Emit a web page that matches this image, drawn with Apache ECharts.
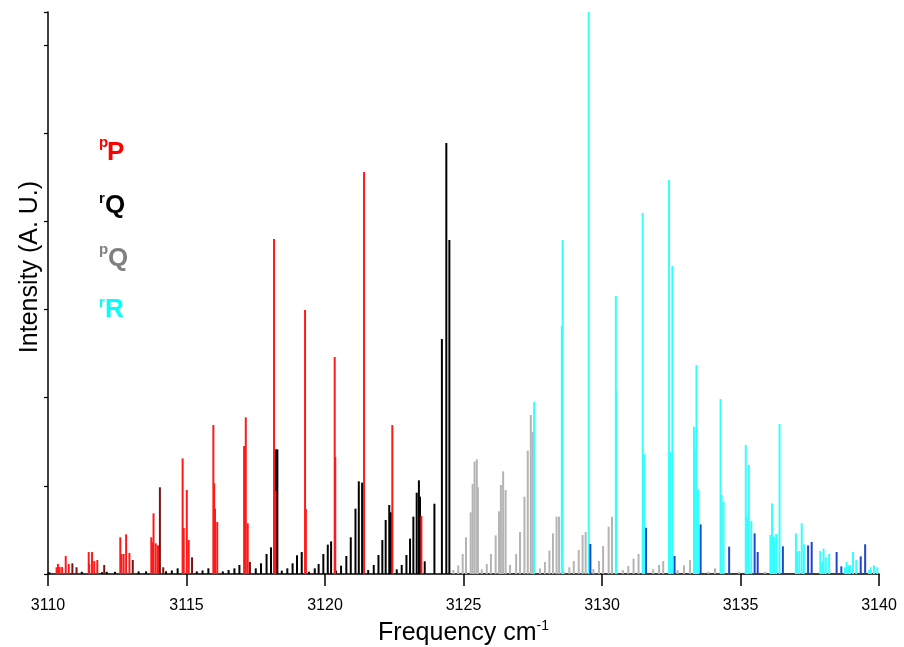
<!DOCTYPE html>
<html>
<head>
<meta charset="utf-8">
<script src="https://cdn.jsdelivr.net/npm/echarts@6/dist/echarts.min.js"></script>
<style>html,body{margin:0;padding:0;background:#fff}#c{width:904px;height:647px}</style>
</head>
<body>
<div id="c"></div>
<script>
// x ticks
const xTicks = [3110, 3115, 3120, 3125, 3130, 3135, 3140];

// pP branch (red)
const pP = [
[3110.31,0.76],[3110.36,1.13],[3110.42,0.79],[3110.51,0.79],[3110.64,2.04],[3110.75,1.13],
[3111.47,2.49],[3111.49,1.13],[3111.59,2.49],[3111.67,1.47],[3111.78,1.59],
[3112.61,4.16],[3112.65,2.27],[3112.73,2.27],[3112.82,4.50],[3112.94,2.38],
[3113.73,4.16],[3113.77,3.59],[3113.81,6.88],[3113.89,3.48],[3113.97,3.25],
[3114.86,13.11],[3114.90,5.22],[3115.01,9.52],[3115.08,3.85],
[3115.97,16.89],[3116.00,10.28],[3116.03,7.41],[3116.11,5.90],
[3117.08,14.51],[3117.14,17.76],[3117.21,5.75],
[3118.16,37.98],[3118.21,9.44],
[3119.28,29.93],[3119.31,7.37],
[3120.35,24.60],[3120.37,13.27],
[3121.41,45.58],
[3122.43,16.89],
[3123.48,6.58]
];
// overlapping pP / rQ lines (dark red)
const pPdark = [
[3110.88,1.21],[3111.03,0.76],[3112.03,1.02],[3113.06,1.59],[3114.04,9.83],[3114.16,0.76],[3115.20,1.89],[3117.29,1.36]
];
// rQ branch (black)
const rQ = [
[3110.05,0.2],[3111.22,0.25],[3111.95,0.2],[3112.12,0.25],[3112.42,0.25],[3113.27,0.3],[3113.54,0.3],
[3114.26,0.3],[3114.47,0.4],[3114.68,0.64],[3115.37,0.3],[3115.58,0.4],[3115.79,0.64],
[3116.31,0.3],[3116.52,0.45],[3116.73,0.64],[3116.91,1.02],
[3117.50,0.64],[3117.69,1.21],[3117.89,2.27],[3118.05,3.02],[3118.23,14.13],[3118.28,14.13],
[3118.44,0.38],[3118.64,0.64],[3118.83,1.21],[3118.99,2.12],[3119.16,2.49],
[3119.42,0.26],[3119.63,0.64],[3119.77,1.13],[3119.94,2.27],[3120.10,3.33],[3120.22,3.70],
[3120.40,0.38],[3120.58,0.94],[3120.77,2.04],[3120.93,4.16],[3121.10,7.41],[3121.22,10.51],[3121.34,10.36],
[3121.56,0.45],[3121.76,1.02],[3121.93,2.15],[3122.07,3.85],[3122.19,6.12],[3122.32,7.82],[3122.38,6.99],
[3122.59,0.53],[3122.77,1.02],[3122.94,2.15],[3123.07,4.01],[3123.19,6.50],[3123.31,9.22],[3123.39,10.62],[3123.43,8.77],
[3123.60,1.44],[3123.95,7.97],[3124.22,26.64],[3124.38,48.87],[3124.49,37.87]
];
// pQ branch (grey)
const pQ = [
[3124.63,0.45],[3124.81,0.98],[3124.97,2.27],[3125.09,4.16],[3125.26,6.99],[3125.33,10.20],[3125.40,12.74],[3125.48,13.00],[3125.52,9.83],
[3125.66,0.53],[3125.84,1.13],[3125.99,2.27],[3126.16,4.38],[3126.28,7.11],[3126.35,10.09],[3126.43,11.64],[3126.52,9.52],
[3126.68,1.02],[3126.90,2.27],[3127.04,4.76],[3127.20,8.77],[3127.32,13.98],[3127.43,18.03],[3127.50,16.10],
[3127.76,0.64],[3127.94,1.36],[3128.10,2.65],[3128.23,4.61],[3128.36,6.50],[3128.45,6.50],
[3128.63,0.26],[3128.82,0.76],[3128.98,1.47],[3129.16,2.72],[3129.30,4.42],[3129.41,4.76],
[3129.69,0.57],[3129.89,1.47],[3130.04,3.17],[3130.24,5.37],[3130.36,6.50],
[3130.75,0.45],[3130.95,0.91],[3131.14,1.74],[3131.32,2.27],
[3131.85,0.53],[3132.06,1.02],[3132.21,1.47],[3132.73,0.45],[3132.96,0.98],[3133.18,1.59],
[3133.84,0.26],[3134.08,0.64],[3134.95,0.26],[3135.88,0.26]
];
// rR branch (cyan)
const rR = [
[3127.55,19.50],[3128.55,28.12],[3128.58,37.87],[3129.52,63.72],[3130.50,31.52],[3130.52,20.75],
[3131.47,40.93],[3131.52,13.60],[3132.42,44.67],[3132.46,13.87],[3132.54,34.92],
[3133.32,16.70],[3133.36,14.06],[3133.41,23.70],[3133.47,9.60],
[3134.28,19.84],[3134.32,8.96],[3134.39,8.20],
[3135.19,14.63],[3135.24,6.50],[3135.30,12.36],[3135.39,6.01],
[3136.08,4.42],[3136.14,8.01],[3136.21,4.23],[3136.29,4.54],[3136.41,17.01],
[3137.00,4.61],[3137.04,2.49],[3137.12,2.61],[3137.21,5.75],[3137.29,3.37],
[3137.88,2.61],[3137.94,1.36],[3138.00,2.87],[3138.08,1.89],[3138.20,2.27],
[3138.77,0.76],[3138.83,1.36],[3138.89,0.98],[3138.95,1.02],[3139.06,2.49],[3139.18,1.59],
[3139.64,0.45],[3139.70,0.76],[3139.82,0.98],[3139.94,0.76]
];
// overlapping lines (dark blue)
const rRdark = [
[3129.58,3.40],[3131.59,5.25],[3132.62,2.04],[3133.56,5.63],[3134.59,3.10],[3135.51,4.61],[3135.62,2.49],
[3136.53,3.14],[3137.44,3.25],[3137.57,3.63],[3138.47,2.49],[3138.64,0.87],[3139.34,2.00],[3139.50,3.37]
];

const FONT = 'Arial, "Liberation Sans", sans-serif';

function stick(params, api) {
  const x = api.value(0), y = api.value(1);
  const p0 = api.coord([x, 0]);
  const p1 = api.coord([x, y]);
  return {
    type: 'rect',
    shape: { x: p0[0] - 1, y: p1[1], width: 2, height: p0[1] - p1[1] },
    style: { fill: api.visual('color') }
  };
}
function mk(name, data, color) {
  return { name, type: 'custom', renderItem: stick, data, itemStyle: { color }, encode: { x: 0, y: 1 }, silent: true, animation: false };
}

const chart = echarts.init(document.getElementById('c'), null, { renderer: 'canvas' });
chart.setOption({
  animation: false,
  backgroundColor: '#ffffff',
  grid: { left: 48, right: 25, top: 12, bottom: 73, containLabel: false, outerBoundsMode: 'none' },
  xAxis: {
    type: 'value', min: xTicks[0], max: xTicks[xTicks.length - 1], interval: 5,
    axisLine: { onZero: false, lineStyle: { color: '#000', width: 1.5 } },
    axisTick: { show: true, inside: false, length: 12, lineStyle: { color: '#000', width: 1.5 } },
    axisLabel: { color: '#000', fontSize: 16, fontFamily: FONT, margin: 24, formatter: v => String(v) },
    splitLine: { show: false },
    name: 'Frequency cm{sup|-1}',
    nameLocation: 'middle', nameGap: 39,
    nameTextStyle: { color: '#000', fontSize: 25, fontFamily: FONT,
      rich: { sup: { fontSize: 14, fontFamily: FONT, color: '#000', padding: [0, 0, 14, 0] } } }
  },
  yAxis: {
    type: 'value', min: 0, max: 63.72, interval: 10,
    axisLine: { show: true, lineStyle: { color: '#000', width: 1.5 } },
    axisTick: { show: true, inside: false, length: 4, lineStyle: { color: '#000', width: 1.2 } },
    axisLabel: { show: false },
    splitLine: { show: false }
  },
  graphic: [
    { type: 'text', x: 30, y: 267, rotation: Math.PI / 2,
      style: { text: 'Intensity (A. U.)', fill: '#000', fontSize: 25, fontFamily: FONT, textAlign: 'center', textVerticalAlign: 'middle' } },
    { type: 'text', x: 99, y: 150, style: { text: 'p', fill: '#ff0000', fontSize: 15, fontWeight: 'bold', fontFamily: FONT, textAlign: 'left', textVerticalAlign: 'bottom' } },
    { type: 'text', x: 107, y: 153, style: { text: 'P', fill: '#ff0000', fontSize: 26, fontWeight: 'bold', fontFamily: FONT, textAlign: 'left', textVerticalAlign: 'middle' } },
    { type: 'text', x: 99, y: 206, style: { text: 'r', fill: '#000000', fontSize: 15, fontWeight: 'bold', fontFamily: FONT, textAlign: 'left', textVerticalAlign: 'bottom' } },
    { type: 'text', x: 105, y: 206, style: { text: 'Q', fill: '#000000', fontSize: 26, fontWeight: 'bold', fontFamily: FONT, textAlign: 'left', textVerticalAlign: 'middle' } },
    { type: 'text', x: 99, y: 257, style: { text: 'p', fill: '#808080', fontSize: 15, fontWeight: 'bold', fontFamily: FONT, textAlign: 'left', textVerticalAlign: 'bottom' } },
    { type: 'text', x: 108, y: 259, style: { text: 'Q', fill: '#808080', fontSize: 26, fontWeight: 'bold', fontFamily: FONT, textAlign: 'left', textVerticalAlign: 'middle' } },
    { type: 'text', x: 99, y: 310, style: { text: 'r', fill: '#00ffff', fontSize: 15, fontWeight: 'bold', fontFamily: FONT, textAlign: 'left', textVerticalAlign: 'bottom' } },
    { type: 'text', x: 105, y: 310, style: { text: 'R', fill: '#00ffff', fontSize: 26, fontWeight: 'bold', fontFamily: FONT, textAlign: 'left', textVerticalAlign: 'middle' } }
  ],
  series: [
    mk('pQ', pQ, '#b4b4b4'),
    mk('rQ', rQ, '#000000'),
    mk('pP', pP, '#ff1a1a'),
    mk('pPdark', pPdark, '#7a1414'),
    mk('rR', rR, '#33ffff'),
    mk('rRdark', rRdark, '#2244cc')
  ]
});
</script>
</body>
</html>
